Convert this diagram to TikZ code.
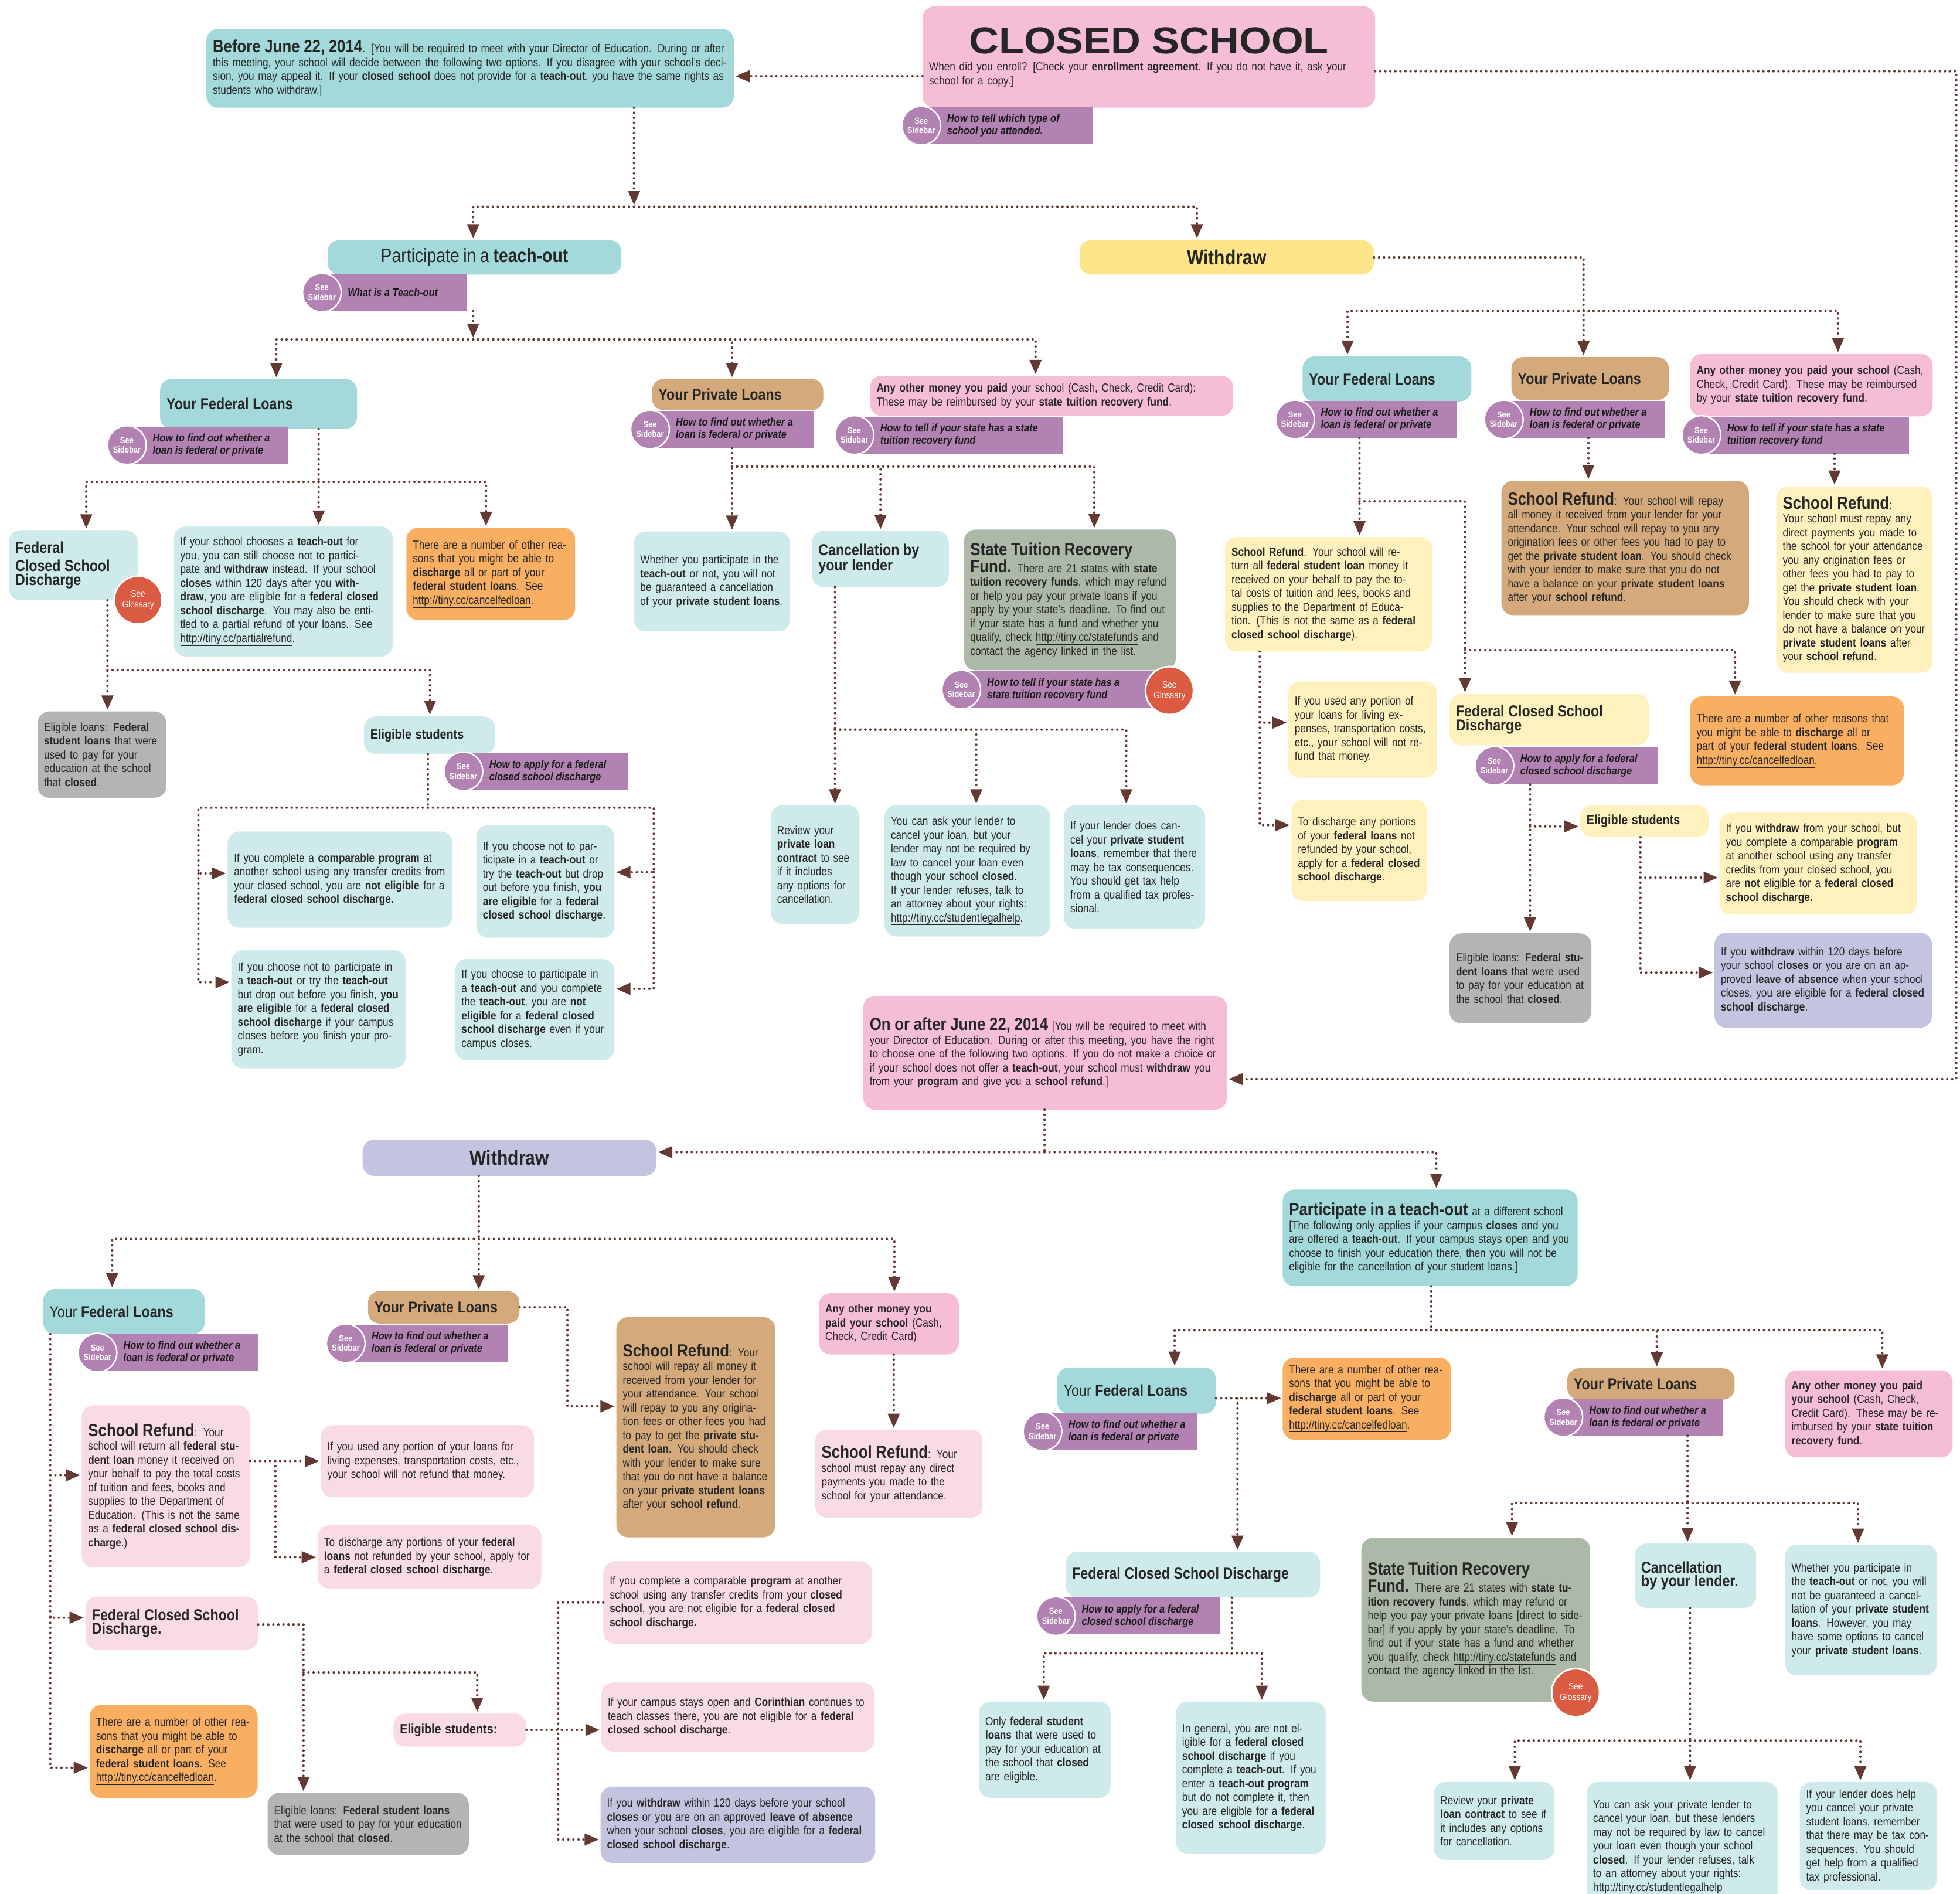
\documentclass[tikz,border=0pt]{standalone}
\usepackage{fontspec}
\setmainfont{Liberation Sans}[FakeStretch=0.86]
\newfontfamily\titlefamily{Liberation Sans}[FakeStretch=1.1]
\usepackage{xcolor}
\usepackage{tikz}
\usetikzlibrary{arrows.meta}

\definecolor{cTeal}{HTML}{A3D9DA}
\definecolor{cTealLt}{HTML}{CFEAEA}
\definecolor{cPink}{HTML}{F6BED6}
\definecolor{cPinkLt}{HTML}{F9DBE6}
\definecolor{cYellow}{HTML}{FFE58A}
\definecolor{cYellowLt}{HTML}{FFF1BE}
\definecolor{cTan}{HTML}{D4A97B}
\definecolor{cOrange}{HTML}{F8AF62}
\definecolor{cGrey}{HTML}{B4B4B7}
\definecolor{cSage}{HTML}{ADB9A8}
\definecolor{cLav}{HTML}{C4C4E0}
\definecolor{cPurple}{HTML}{B282B3}
\definecolor{cRed}{HTML}{DB5A42}
\definecolor{cLine}{HTML}{643833}

\newcommand{\bodyfont}{\fontsize{20}{23.5}\selectfont}
\newcommand{\bighead}{\bfseries\fontsize{30}{32}\selectfont}
\newcommand{\boxhead}{\bfseries\fontsize{27}{31}\selectfont}

% box from corner (x1,y1) to (x2,y2)
\newcommand{\infobox}[7]{%
  \pgfmathsetmacro{\boxw}{(#5-#3)*2.1327}%
  \pgfmathsetmacro{\boxh}{(#6-#4)*2.1327}%
  \pgfmathsetmacro{\textw}{\boxw-22}%
  \node[#1, anchor=north west, minimum width=\boxw pt, minimum height=\boxh pt, text width=\textw pt] (#2) at (#3,#4) {#7};%
}
% purple "See Sidebar" tag
\newcommand{\seesidebar}[5]{%
  \pgfmathsetmacro{\boxw}{(#4-#2)*2.1327}%
  \node[sidebar, minimum width=\boxw pt] (#1) at (#2,#3) {};%
  \node[sidetext] (#1t) at ([xshift=44pt]#1.west) {#5};%
  \node[seecircle] (#1c) at (#1.west) {See\\Sidebar};%
}

\begin{document}
\begin{tikzpicture}[x=2.1327pt, y=-2.1327pt,
    box/.style={rounded corners=20pt, inner xsep=11pt, inner ysep=4pt, align=left, font=\bodyfont, text=black!85},
    tealbox/.style={box, fill=cTeal},
    ltealbox/.style={box, fill=cTealLt},
    pinkbox/.style={box, fill=cPink},
    lpinkbox/.style={box, fill=cPinkLt},
    yellowbox/.style={box, fill=cYellow},
    lyellowbox/.style={box, fill=cYellowLt},
    tanbox/.style={box, fill=cTan},
    orangebox/.style={box, fill=cOrange},
    greybox/.style={box, fill=cGrey},
    sagebox/.style={box, fill=cSage},
    lavbox/.style={box, fill=cLav},
    sidebar/.style={anchor=west, fill=cPurple, minimum height=63pt, inner sep=0pt},
    sidetext/.style={anchor=west, align=left, inner sep=0pt, text=black!90, font=\bfseries\itshape\fontsize{19}{21}\selectfont},
    seecircle/.style={circle, fill=cPurple, draw=white, line width=2.5pt, minimum size=66pt, inner sep=0pt, align=center, text=white, font=\bfseries\fontsize{15}{16.5}\selectfont},
    glossary/.style={circle, fill=cRed, draw=white, line width=3pt, minimum size=82pt, inner sep=0pt, align=center, text=white, font=\fontsize{16}{18}\selectfont},
    link/.style={draw=cLine, line width=4.2pt, line cap=round, dash pattern=on 0pt off 8.6pt},
    arr/.style={link, -{Triangle[length=24pt, width=21pt, line width=0pt]}, shorten >=3pt}]

    \fill[white] (0,0) rectangle (1568,1515);
    \useasboundingbox (0,0) rectangle (1568,1515);

    % Top
    \infobox{pinkbox}{closed}{738}{5}{1100}{86}{\makebox[\linewidth]{\titlefamily\bfseries\fontsize{64}{64}\selectfont CLOSED\hspace{0.3em}SCHOOL}\\[6pt]When did you enroll? [Check your \textbf{enrollment agreement}. If you do not have it, ask your school for a copy.]}
    \infobox{tealbox}{before}{165}{23}{587}{86}{{\bighead Before June 22, 2014}. [You will be required to meet with your Director of Education.  During or after this meeting, your school will decide between the following two options.  If you disagree with your school's decision, you may appeal it. If your \textbf{closed school} does not provide for a \textbf{teach-out}, you have the same rights as students who withdraw.]}
    \infobox{tealbox, align=center}{teach}{262}{192}{497}{219.5}{\fontsize{33}{35}\selectfont Participate in a \textbf{teach-out}}
    \infobox{yellowbox, align=center}{withdraw}{863.5}{192}{1099}{219.5}{\bfseries\fontsize{35}{38}\selectfont Withdraw}

    % Teach-out: federal loans
    \infobox{tealbox}{fedA}{128}{303}{285.5}{343}{\boxhead Your Federal Loans}
    \infobox{ltealbox}{fcsdA}{7}{424}{110}{480}{\boxhead Federal\\Closed School\\Discharge}
    \infobox{ltealbox}{fedtxtA}{139}{421}{314}{525}{If your school chooses a \textbf{teach-out} for you, you can still choose not to participate and \textbf{withdraw} instead. If your school \textbf{closes} within 120 days after you \textbf{withdraw}, you are eligible for a \textbf{federal closed school discharge}. You may also be entitled to a partial refund of your loans.  See \underline{http://tiny.cc/partialrefund}.}
    \infobox{orangebox}{orangeA}{325}{422}{460}{496}{There are a number of other reasons that you might be able to \textbf{discharge} all or part of your \textbf{federal student loans}.  See \underline{http://tiny.cc/cancelfedloan}.}
    \infobox{greybox}{greyA}{30}{569}{133}{638}{Eligible loans: \textbf{Federal student loans} that were used to pay for your education at the school that \textbf{closed}.}
    \infobox{ltealbox}{eligA}{291}{573}{396}{603}{\bfseries\fontsize{23}{26}\selectfont Eligible students}
    \infobox{ltealbox}{eA1}{182}{665}{362}{742}{If you complete a \textbf{comparable program} at another school using any transfer credits from your closed school, you are \textbf{not eligible} for a \textbf{federal closed school discharge.}}
    \infobox{ltealbox}{eA2}{185}{760}{324.5}{854.5}{If you choose not to participate in a \textbf{teach-out} or try the \textbf{teach-out} but drop out before you finish, \textbf{you are eligible} for a \textbf{federal closed school discharge} if your campus closes before you finish your program.}
    \infobox{ltealbox}{eA3}{381}{660}{491.5}{750}{If you choose not to participate in a \textbf{teach-out} or try the \textbf{teach-out} but drop out before you finish, \textbf{you are eligible} for a \textbf{federal closed school discharge}.}
    \infobox{ltealbox}{eA4}{364}{767}{491.5}{848}{If you choose to participate in a \textbf{teach-out} and you complete the \textbf{teach-out}, you are \textbf{not eligible} for a \textbf{federal closed school discharge} even if your campus closes.}

    % Teach-out: private loans and other money
    \infobox{tanbox}{privA}{521.5}{303}{658.5}{328}{\boxhead Your Private Loans}
    \infobox{pinkbox}{otherA}{696}{300.5}{986.5}{332.5}{\textbf{Any other money you paid} your school (Cash, Check, Credit Card): These may be reimbursed by your \textbf{state tuition recovery fund}.}
    \infobox{ltealbox}{whetherA}{507}{425}{632}{505}{Whether you participate in the \textbf{teach-out} or not, you will not be guaranteed a cancellation of your \textbf{private student loans}.}
    \infobox{ltealbox}{cancelA}{649.5}{424.5}{759}{469.5}{\boxhead Cancellation by your lender}
    \infobox{sagebox}{stateA}{771}{423.5}{940.5}{536}{{\bighead State Tuition Recovery Fund.} There are 21 states with \textbf{state tuition recovery funds}, which may refund or help you pay your private loans if you apply by your state's deadline. To find out if your state has a fund and whether you qualify, check \underline{http://tiny.cc/statefunds} and contact the agency linked in the list.}
    \infobox{ltealbox}{reviewA}{616.5}{644}{687.5}{739}{Review your \textbf{private loan contract} to see if it includes any options for cancellation.}
    \infobox{ltealbox}{askA}{707.5}{644}{840}{749}{You can ask your lender to cancel your loan, but your lender may not be required by law to cancel your loan even though your school \textbf{closed}.  If your lender refuses, talk to an attorney about your rights: \underline{http://tiny.cc/studentlegalhelp}.}
    \infobox{ltealbox}{taxA}{851}{644}{964}{743}{If your lender does cancel your \textbf{private student loans}, remember that there may be tax consequences.  You should get tax help from a qualified tax professional.}

    % Withdraw (before June 22)
    \infobox{tealbox}{fedB}{1042}{285}{1177}{321}{\boxhead Your Federal Loans}
    \infobox{lyellowbox}{refundB}{980}{429.5}{1145.5}{521}{\textbf{School Refund}. Your school will return all \textbf{federal student loan} money it received on your behalf to pay the total costs of tuition and fees, books and supplies to the Department of Education. (This is not the same as a \textbf{federal closed school discharge}).}
    \infobox{lyellowbox}{usedB}{1030.5}{545}{1149.5}{622}{If you used any portion of your loans for living expenses, transportation costs, etc., your school will not refund that money.}
    \infobox{lyellowbox}{dischB}{1033}{639.5}{1141.5}{720.5}{To discharge any portions of your \textbf{federal loans} not refunded by your school, apply for a \textbf{federal closed school discharge}.}
    \infobox{lyellowbox}{fcsdB}{1159.5}{555}{1319}{596}{\boxhead Federal Closed School\\Discharge}
    \infobox{greybox}{greyB}{1159.5}{746.5}{1273}{818.5}{Eligible loans: \textbf{Federal student loans} that were used to pay for your education at the school that \textbf{closed}.}
    \infobox{lyellowbox}{eligB}{1264}{644}{1367}{669.5}{\bfseries\fontsize{23}{26}\selectfont Eligible students}
    \infobox{lyellowbox}{eB1}{1375.5}{650}{1533.5}{731.5}{If you \textbf{withdraw} from your school, but you complete a comparable \textbf{program} at another school using any transfer credits from your closed school, you are \textbf{not} eligible for a \textbf{federal closed school discharge.}}
    \infobox{lavbox}{eB2}{1371.5}{746}{1545.5}{822}{If you \textbf{withdraw} within 120 days before your school \textbf{closes} or you are on an approved \textbf{leave of absence} when your school closes, you are eligible for a \textbf{federal closed school discharge}.}
    \infobox{orangebox}{orangeB}{1352}{557}{1523}{628}{There are a number of other reasons that you might be able to \textbf{discharge} all or part of your \textbf{federal student loans}.  See \underline{http://tiny.cc/cancelfedloan}.}
    \infobox{tanbox}{privB}{1209}{285.5}{1335}{320}{\boxhead Your Private Loans}
    \infobox{tanbox}{srefB}{1201}{384.5}{1399}{492}{{\bighead School Refund}: Your school will repay all money it received from your lender for your attendance.  Your school will repay to you any origination fees or other fees you had to pay to get the \textbf{private student loan}.  You should check with your lender to make sure that you do not have a balance on your \textbf{private student loans} after your \textbf{school refund}.}
    \infobox{pinkbox}{otherB}{1352}{283}{1546}{333}{\textbf{Any other money you paid your school} (Cash, Check, Credit Card). These may be reimbursed by your \textbf{state tuition recovery fund}.}
    \infobox{lyellowbox}{srefB2}{1421}{389}{1546}{538}{{\bighead School Refund}:\\Your school must repay any direct payments you made to the school for your attendance you any origination fees or other fees you had to pay to get the \textbf{private student loan}.  You should check with your lender to make sure that you do not have a balance on your \textbf{private student loans} after your \textbf{school refund}.}

    % On or after June 22
    \infobox{pinkbox}{after}{690.5}{796.5}{981.5}{887.5}{{\bighead On or after June 22, 2014} [You will be required to meet with your Director of Education.  During or after this meeting, you have the right to choose one of the following two options.  If you do not make a choice or if your school does not offer a \textbf{teach-out}, your school must \textbf{withdraw} you from your \textbf{program} and give you a \textbf{school refund}.]}
    \infobox{lavbox, align=center}{withdrawC}{290}{911.5}{525}{940.5}{\bfseries\fontsize{35}{38}\selectfont Withdraw}
    \infobox{tealbox}{teachD}{1026}{951.5}{1262}{1028.7}{{\bighead Participate in a teach-out} at a different school [The following only applies if your campus \textbf{closes} and you are offered a \textbf{teach-out}.  If your campus stays open and you choose to finish your education there, then you will not be eligible for the cancellation of your student loans.]}

    % Withdraw (on or after June 22)
    \infobox{tealbox}{fedC}{34.4}{1031}{163.8}{1067}{\fontsize{27}{31}\selectfont Your \textbf{Federal Loans}}
    \infobox{lpinkbox}{srefC}{65.3}{1124}{199.7}{1253.7}{{\bighead School Refund}: Your school will return all \textbf{federal student loan} money it received on your behalf to pay the total costs of tuition and fees, books and supplies to the Department of Education. (This is not the same as a \textbf{federal closed school discharge}.)}
    \infobox{lpinkbox}{usedC}{256.7}{1140}{427}{1197.6}{If you used any portion of your loans for living expenses, transportation costs, etc., your school will not refund that money.}
    \infobox{lpinkbox}{dischC}{254}{1220}{433}{1270.7}{To discharge any portions of your \textbf{federal loans} not refunded by your school, apply for a \textbf{federal closed school discharge}.}
    \infobox{lpinkbox}{fcsdC}{68.3}{1277}{206.4}{1319.5}{\boxhead Federal Closed School\\Discharge.}
    \infobox{orangebox}{orangeC}{71.6}{1363.6}{206}{1438}{There are a number of other reasons that you might be able to \textbf{discharge} all or part of your \textbf{federal student loans}.  See \underline{http://tiny.cc/cancelfedloan}.}
    \infobox{greybox}{greyC}{214}{1434}{375}{1483.6}{Eligible loans: \textbf{Federal student loans} that were used to pay for your education at the school that \textbf{closed}.}
    \infobox{lpinkbox}{eligC}{314.7}{1370.6}{421}{1397}{\bfseries\fontsize{23}{26}\selectfont Eligible students:}
    \infobox{lpinkbox}{eC1}{482.6}{1248.8}{697.6}{1314.8}{If you complete a comparable \textbf{program} at another school using any transfer credits from your \textbf{closed school}, you are not eligible for a \textbf{federal closed school discharge.}}
    \infobox{lpinkbox}{eC2}{481}{1345.8}{699.4}{1401}{If your campus stays open and \textbf{Corinthian} continues to teach classes there, you are not eligible for a \textbf{federal closed school discharge}.}
    \infobox{lavbox}{eC3}{480.3}{1429}{700}{1490}{If you \textbf{withdraw} within 120 days before your school \textbf{closes} or you are on an approved \textbf{leave of absence} when your school \textbf{closes}, you are eligible for a \textbf{federal closed school discharge}.}
    \infobox{tanbox}{privC}{294.3}{1032.7}{415.5}{1058.6}{\boxhead Your Private Loans}
    \infobox{tanbox}{srefC2}{493}{1053.5}{620}{1229.6}{{\bighead School Refund}: Your school will repay all money it received from your lender for your attendance.  Your school will repay to you any origination fees or other fees you had to pay to get the \textbf{private student loan}.  You should check with your lender to make sure that you do not have a balance on your \textbf{private student loans} after your \textbf{school refund}.}
    \infobox{pinkbox}{otherC}{655}{1034.3}{767}{1083.3}{\textbf{Any other money you paid your school} (Cash, Check, Credit Card)}
    \infobox{lpinkbox}{srefC3}{652}{1143.5}{786}{1214}{{\bighead School Refund}: Your school must repay any direct payments you made to the school for your attendance.}

    % Teach-out at a different school
    \infobox{tealbox}{fedD}{845.7}{1093.8}{972.7}{1130.7}{\fontsize{27}{31}\selectfont Your \textbf{Federal Loans}}
    \infobox{orangebox}{orangeD}{1026}{1085.8}{1160.8}{1151.5}{There are a number of other reasons that you might be able to \textbf{discharge} all or part of your \textbf{federal student loans}.  See \underline{http://tiny.cc/cancelfedloan}.}
    \infobox{ltealbox}{fcsdD}{852.5}{1241}{1056}{1277.8}{\boxhead Federal Closed School Discharge}
    \infobox{ltealbox}{onlyD}{783}{1361}{888.4}{1438}{Only \textbf{federal student loans} that were used to pay for your education at the school that \textbf{closed} are eligible.}
    \infobox{ltealbox}{genD}{940.5}{1361}{1060.4}{1482.6}{In general, you are not eligible for a \textbf{federal closed school discharge} if you complete a \textbf{teach-out}.  If you enter a \textbf{teach-out program} but do not complete it, then you are eligible for a \textbf{federal closed school discharge}.}
    \infobox{tanbox}{privD}{1253.7}{1094.4}{1387.5}{1119.5}{\boxhead Your Private Loans}
    \infobox{pinkbox}{otherD}{1428}{1096}{1562}{1165.6}{\textbf{Any other money you paid your school} (Cash, Check, Credit Card). These may be reimbursed by your \textbf{state tuition recovery fund}.}
    \infobox{sagebox}{stateD}{1089}{1230}{1272}{1361}{{\bighead State Tuition Recovery\\Fund.} There are 21 states with \textbf{state tuition recovery funds}, which may refund or help you pay your private loans [direct to sidebar] if you apply by your state's deadline. To find out if your state has a fund and whether you qualify, check \underline{http://tiny.cc/statefunds} and contact the agency linked in the list.}
    \infobox{ltealbox}{cancelD}{1307.7}{1234.6}{1404.8}{1286}{\boxhead Cancellation\\by your lender.}
    \infobox{ltealbox}{whetherD}{1428}{1235.4}{1549.5}{1340}{Whether you participate in the \textbf{teach-out} or not, you will not be guaranteed a cancellation of your \textbf{private student loans}. However, you may have some options to cancel your \textbf{private student loans}.}
    \infobox{ltealbox}{reviewD}{1147}{1425.3}{1243.5}{1487.8}{Review your \textbf{private loan contract} to see if it includes any options for cancellation.}
    \infobox{ltealbox}{askD}{1269.3}{1425.3}{1422}{1530}{You can ask your private lender to cancel your loan, but these lenders may not be required by law to cancel your loan even though your school \textbf{closed}.  If your lender refuses, talk to an attorney about your rights: \underline{http://tiny.cc/studentlegalhelp}}
    \infobox{ltealbox}{taxD}{1439.7}{1425.3}{1549.5}{1512}{If your lender does help you cancel your private student loans, remember that there may be tax consequences.  You should get help from a qualified tax professional.}

    % Sidebar tags
    \seesidebar{closedsb}{737}{100.5}{874}{How to tell which type of\\school you attended.}
    \seesidebar{teachsb}{257.5}{234}{373}{What is a Teach-out}
    \seesidebar{fedAsb}{101.5}{356}{230}{How to find out whether a\\loan is federal or private}
    \seesidebar{eligAsb}{370.7}{617}{502}{How to apply for a federal\\closed school discharge}
    \seesidebar{privAsb}{520}{343.5}{651}{How to find out whether a\\loan is federal or private}
    \seesidebar{otherAsb}{683.5}{348}{850}{How to tell if your state has a state\\tuition recovery fund}
    \seesidebar{stateAsb}{769}{551.6}{930}{How to tell if your state has a\\state tuition recovery fund}
    \seesidebar{fedBsb}{1036}{335.5}{1165}{How to find out whether a\\loan is federal or private}
    \seesidebar{fcsdBsb}{1195.5}{612.6}{1326.6}{How to apply for a federal\\closed school discharge}
    \seesidebar{privBsb}{1203}{335.5}{1331.6}{How to find out whether a\\loan is federal or private}
    \seesidebar{otherBsb}{1361}{348}{1527}{How to tell if your state has a state\\tuition recovery fund}
    \seesidebar{fedCsb}{78}{1082}{206}{How to find out whether a\\loan is federal or private}
    \seesidebar{privCsb}{276.6}{1074.5}{406}{How to find out whether a\\loan is federal or private}
    \seesidebar{fedDsb}{834}{1145}{958}{How to find out whether a\\loan is federal or private}
    \seesidebar{fcsdDsb}{844.7}{1292.7}{976}{How to apply for a federal\\closed school discharge}
    \seesidebar{privDsb}{1250.6}{1133.6}{1378}{How to find out whether a\\loan is federal or private}

    % Glossary marks
    \node[glossary] (glA) at (110.5,480) {See\\Glossary};
    \node[glossary] (glB) at (935.6,552.4) {See\\Glossary};
    \node[glossary] (glD) at (1260.5,1354) {See\\Glossary};

    % Connections: top
    \coordinate (jT0) at (507.2,165.3);
    \coordinate (jR0) at (1565,57);
    \coordinate (jR1) at (1565,863.2);
    \draw[arr] (closed.west |- 0,61) -- (before.east |- 0,61);
    \draw[arr] (closed.east |- jR0) -- (jR0) -- (jR1) -- (after.east |- jR1);
    \draw[arr] (before.south -| jT0) -- (jT0);
    \draw[arr] (jT0) -| (teach.north -| 378.5,0);
    \draw[arr] (jT0) -| (withdraw.north -| 957.5,0);

    % Connections: teach-out
    \coordinate (jA0) at (378.5,271.5);
    \draw[arr] (teachsb.south -| jA0) -- (jA0);
    \draw[arr] (jA0) -| (fedA.north -| 221,0);
    \draw[arr] (jA0) -| (privA.north -| 585.6,0);
    \draw[arr] (jA0) -| (otherA.north -| 828.4,0);
    \coordinate (jA1) at (254.9,385.5);
    \draw[link] (fedA.south -| jA1) -- (jA1);
    \draw[arr] (jA1) -| (fcsdA.north -| 69,0);
    \draw[arr] (jA1) -- (fedtxtA.north -| jA1);
    \draw[arr] (jA1) -| (orangeA.north -| 388.8,0);
    \coordinate (jA2) at (86,536);
    \draw[arr] (fcsdA.south -| jA2) -- (greyA.north -| jA2);
    \draw[arr] (jA2) -| (eligA.north -| 344,0);
    \coordinate (jA3) at (342.3,646);
    \coordinate (jA4) at (158.7,698.6);
    \coordinate (jA5) at (158.7,785.7);
    \coordinate (jA6) at (523,697.7);
    \coordinate (jA7) at (523,791);
    \draw[link] (eligA.south -| jA3) -- (jA3);
    \draw[arr] (jA3) -| (jA4) -- (eA1.west |- jA4);
    \draw[arr] (jA4) -- (jA5) -- (eA2.west |- jA5);
    \draw[arr] (jA3) -| (jA6) -- (eA3.east |- jA6);
    \draw[arr] (jA6) -- (jA7) -- (eA4.east |- jA7);
    \coordinate (jA8) at (585.6,373.2);
    \draw[arr] (privAsb.south -| jA8) -- (whetherA.north -| jA8);
    \draw[arr] (jA8) -| (cancelA.north -| 704.4,0);
    \draw[arr] (jA8) -| (stateA.north -| 875.4,0);
    \coordinate (jA9) at (668,583.6);
    \draw[arr] (cancelA.south -| jA9) -- (reviewA.north -| jA9);
    \draw[arr] (jA9) -| (askA.north -| 781,0);
    \draw[arr] (jA9) -| (taxA.north -| 901,0);

    % Connections: withdraw
    \coordinate (jW) at (1266.8,248.7);
    \draw[arr] (withdraw.east) -| (privB.north -| jW);
    \draw[arr] (jW) -| (fedB.north -| 1078,0);
    \draw[arr] (jW) -| (otherB.north -| 1470.4,0);
    \coordinate (jB1) at (1087.6,401);
    \coordinate (jB2) at (1172,520);
    \draw[arr] (fedBsb.south -| jB1) -- (refundB.north -| jB1);
    \draw[arr] (jB1) -| (fcsdB.north -| jB2);
    \draw[arr] (jB2) -| (orangeB.north -| 1388,0);
    \coordinate (jB3) at (1007.8,578);
    \coordinate (jB4) at (1007.8,660);
    \draw[arr] (refundB.south -| jB3) -- (jB3) -- (usedB.west |- jB3);
    \draw[arr] (jB3) -- (jB4) -- (dischB.west |- jB4);
    \coordinate (jB5) at (1224,661);
    \draw[arr] (fcsdBsb.south -| jB5) -- (greyB.north -| jB5);
    \draw[arr] (jB5) -- (eligB.west |- jB5);
    \coordinate (jB6) at (1312.3,702);
    \coordinate (jB7) at (1312.3,778);
    \draw[arr] (eligB.south -| jB6) -- (jB6) -- (eB1.west |- jB6);
    \draw[arr] (jB6) -- (jB7) -- (eB2.west |- jB7);
    \draw[arr] (privBsb.south -| 1270.7,0) -- (srefB.north -| 1270.7,0);
    \draw[arr] (otherBsb.south -| 1467.6,0) -- (srefB2.north -| 1467.6,0);

    % Connections: on or after
    \coordinate (jM) at (835.6,921.6);
    \draw[link] (after.south -| jM) -- (jM);
    \draw[arr] (jM) -- (withdrawC.east |- jM);
    \draw[arr] (jM) -| (teachD.north -| 1149,0);

    % Connections: withdraw (lower)
    \coordinate (jC0) at (383,991);
    \draw[link] (withdrawC.south -| jC0) -- (jC0);
    \draw[arr] (jC0) -| (fedC.north -| 89.7,0);
    \draw[arr] (jC0) -- (privC.north -| jC0);
    \draw[arr] (jC0) -| (otherC.north -| 715.5,0);
    \coordinate (jC1) at (40.2,1180);
    \coordinate (jC2) at (40.2,1294);
    \coordinate (jC3) at (40.2,1414);
    \draw[arr] (fedC.south -| jC1) -- (jC1) -- (srefC.west |- jC1);
    \draw[arr] (jC1) -- (jC2) -- (fcsdC.west |- jC2);
    \draw[arr] (jC2) -- (jC3) -- (orangeC.west |- jC3);
    \coordinate (jC4) at (220.3,1168.7);
    \coordinate (jC5) at (220.3,1245.6);
    \draw[arr] (srefC.east |- jC4) -- (usedC.west |- jC4);
    \draw[arr] (jC4) -- (jC5) -- (dischC.west |- jC5);
    \coordinate (jC6) at (242.8,1299.4);
    \coordinate (jC7) at (242.8,1337.8);
    \draw[arr] (fcsdC.east |- jC6) -- (jC6) -- (greyC.north -| jC6);
    \draw[arr] (jC7) -| (eligC.north -| 381.8,0);
    \coordinate (jC8) at (446.5,1383.7);
    \coordinate (jC9) at (446.5,1281.8);
    \coordinate (jC10) at (446.5,1471.4);
    \draw[arr] (eligC.east |- jC8) -- (eC2.west |- jC8);
    \draw[arr] (eC1.west |- jC9) -- (jC9) -- (jC10) -- (eC3.west |- jC10);
    \coordinate (jC11) at (453.9,1045.7);
    \coordinate (jC12) at (453.9,1124.9);
    \draw[arr] (privC.east |- jC11) -- (jC11) -- (jC12) -- (srefC2.west |- jC12);
    \draw[arr] (otherC.south -| 715,0) -- (srefC3.north -| 715,0);

    % Connections: teach-out at a different school
    \coordinate (jD0) at (1145,1064);
    \draw[link] (teachD.south -| jD0) -- (jD0);
    \draw[arr] (jD0) -| (fedD.north -| 939.7,0);
    \draw[arr] (jD0) -| (privD.north -| 1325.4,0);
    \draw[arr] (jD0) -| (otherD.north -| 1505.8,0);
    \coordinate (jD1) at (990,1118.5);
    \draw[arr] (fedD.east |- jD1) -- (orangeD.west |- jD1);
    \draw[arr] (jD1) -- (fcsdD.north -| jD1);
    \coordinate (jD2) at (985.5,1322.5);
    \draw[link] (fcsdD.south -| jD2) -- (jD2);
    \draw[arr] (jD2) -| (onlyD.north -| 835,0);
    \draw[arr] (jD2) -| (genD.north -| 1009.5,0);
    \coordinate (jD3) at (1350,1202.3);
    \draw[link] (privDsb.south -| jD3) -- (jD3);
    \draw[arr] (jD3) -| (stateD.north -| 1209.6,0);
    \draw[arr] (jD3) -- (cancelD.north -| jD3);
    \draw[arr] (jD3) -| (whetherD.north -| 1486.4,0);
    \coordinate (jD4) at (1352,1392.3);
    \draw[link] (cancelD.south -| jD4) -- (jD4);
    \draw[arr] (jD4) -| (reviewD.north -| 1211.8,0);
    \draw[arr] (jD4) -- (askD.north -| jD4);
    \draw[arr] (jD4) -| (taxD.north -| 1488.3,0);

\end{tikzpicture}
\end{document}
